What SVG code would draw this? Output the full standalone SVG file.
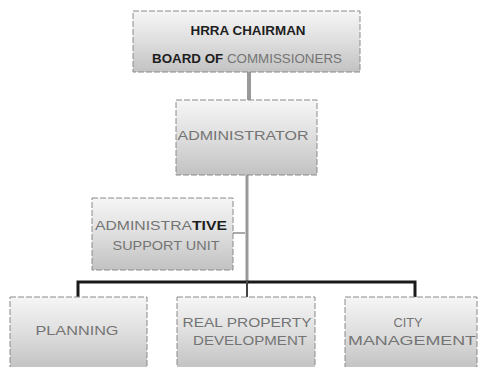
<svg xmlns="http://www.w3.org/2000/svg" width="478" height="367" viewBox="0 0 478 367">
<defs>
<linearGradient id="g" x1="0" y1="0" x2="0" y2="1">
<stop offset="0" stop-color="#f6f6f6"/>
<stop offset="0.5" stop-color="#dedede"/>
<stop offset="1" stop-color="#c2c2c2"/>
</linearGradient>
</defs>
<style>
.box{fill:url(#g);stroke:#8a8a8a;stroke-width:1;stroke-dasharray:6 2}
.t{font-family:"Liberation Sans",Arial,sans-serif;font-size:13px;fill:#747474;text-anchor:middle}
.b{font-weight:bold;fill:#1e1e1e}
.c{fill:none;stroke-linecap:square}
</style>
<rect width="478" height="367" fill="#ffffff"/>
<g id="connectors">
<line class="c" x1="249" y1="72" x2="249" y2="100" stroke="#9a9a9a" stroke-width="4"/>
<line class="c" x1="247" y1="175" x2="247" y2="282" stroke="#9a9a9a" stroke-width="3"/>
<line class="c" x1="233" y1="233" x2="245" y2="233" stroke="#aaaaaa" stroke-width="2" stroke-dasharray="2 1"/>
<polyline class="c" points="78,297 78,282 415,282 415,297" stroke="#1a1a1a" stroke-width="3"/>
<line class="c" x1="247" y1="282" x2="247" y2="297" stroke="#444" stroke-width="2"/>
</g>
<g id="chairman">
<rect class="box" x="133" y="11" width="227" height="61"/>
<text class="t b" x="248" y="35" font-size="11" textLength="115" lengthAdjust="spacingAndGlyphs">HRRA CHAIRMAN</text>
<text class="t" x="247" y="63" textLength="190" lengthAdjust="spacingAndGlyphs"><tspan class="b">BOARD OF </tspan>COMMISSIONERS</text>
</g>
<g id="administrator">
<rect class="box" x="176" y="100" width="141" height="75"/>
<text class="t" x="243" y="140" font-size="14" textLength="131" lengthAdjust="spacingAndGlyphs">ADMINISTRATOR</text>
</g>
<g id="support">
<rect class="box" x="92" y="198" width="141" height="72"/>
<text class="t" x="161" y="230" font-size="14" textLength="132" lengthAdjust="spacingAndGlyphs">ADMINISTRA<tspan class="b">TIVE</tspan></text>
<text class="t" x="166" y="250" font-size="13" textLength="107" lengthAdjust="spacingAndGlyphs">SUPPORT UNIT</text>
</g>
<g id="planning">
<rect class="box" x="10" y="297" width="137" height="72"/>
<text class="t" x="77" y="335" font-size="13" textLength="83" lengthAdjust="spacingAndGlyphs">PLANNING</text>
</g>
<g id="realproperty">
<rect class="box" x="177" y="297" width="138" height="72"/>
<text class="t" x="247" y="327" font-size="13" textLength="129" lengthAdjust="spacingAndGlyphs">REAL PROPERTY</text>
<text class="t" x="250" y="345" font-size="13" textLength="114" lengthAdjust="spacingAndGlyphs">DEVELOPMENT</text>
</g>
<g id="citymanagement">
<rect class="box" x="345" y="297" width="132" height="72"/>
<text class="t" x="408" y="327" font-size="13" textLength="29" lengthAdjust="spacingAndGlyphs">CITY</text>
<text class="t" x="412" y="345" font-size="13" textLength="128" lengthAdjust="spacingAndGlyphs">MANAGEMENT</text>
</g>
</svg>
